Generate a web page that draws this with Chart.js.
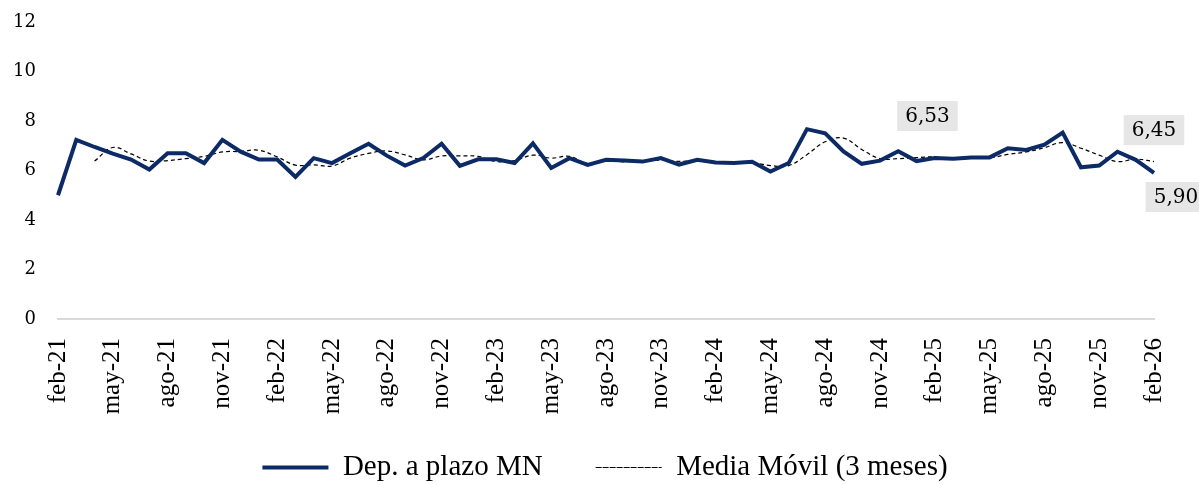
<!DOCTYPE html>
<html>
<head>
<meta charset="UTF-8">
<title>Dep. a plazo MN</title>
<script src="https://cdn.jsdelivr.net/npm/chart.js@4.4.1/dist/chart.umd.min.js"></script>
<style>
	body { margin:0; background:#fff; }
	#wrap { width:1199px; height:485px; }
</style>
</head>
<body>
	<div id="wrap"><canvas id="myChart"></canvas></div>

	<script>
		// meses feb-21 .. feb-26
		let meses = ['feb-21','mar-21','abr-21','may-21','jun-21','jul-21','ago-21','sep-21','oct-21','nov-21','dic-21',
			'ene-22','feb-22','mar-22','abr-22','may-22','jun-22','jul-22','ago-22','sep-22','oct-22','nov-22','dic-22',
			'ene-23','feb-23','mar-23','abr-23','may-23','jun-23','jul-23','ago-23','sep-23','oct-23','nov-23','dic-23',
			'ene-24','feb-24','mar-24','abr-24','may-24','jun-24','jul-24','ago-24','sep-24','oct-24','nov-24','dic-24',
			'ene-25','feb-25','mar-25','abr-25','may-25','jun-25','jul-25','ago-25','sep-25','oct-25','nov-25','dic-25',
			'ene-26','feb-26'];

		let depPlazo = [5.00, 7.24, 6.95, 6.68, 6.44, 6.04, 6.70, 6.70, 6.30, 7.24, 6.76,
			6.44, 6.44, 5.74, 6.50, 6.30, 6.70, 7.08, 6.60, 6.20, 6.50, 7.08, 6.19,
			6.45, 6.45, 6.30, 7.10, 6.10, 6.50, 6.23, 6.43, 6.40, 6.36, 6.50, 6.24,
			6.43, 6.32, 6.30, 6.35, 5.96, 6.30, 7.67, 7.50, 6.77, 6.27, 6.40, 6.78,
			6.38, 6.50, 6.47, 6.53, 6.53, 6.90, 6.83, 7.04, 7.53, 6.13, 6.20, 6.76,
			6.43, 5.90];

		let mediaMovil = [null, null, 6.38, 6.93, 6.67, 6.38, 6.40, 6.48, 6.57, 6.75, 6.77,
			6.82, 6.55, 6.22, 6.23, 6.18, 6.50, 6.69, 6.79, 6.63, 6.43, 6.59, 6.59,
			6.57, 6.36, 6.40, 6.62, 6.50, 6.57, 6.28, 6.39, 6.35, 6.40, 6.42, 6.37,
			6.39, 6.33, 6.35, 6.32, 6.20, 6.20, 6.64, 7.16, 7.31, 6.85, 6.48, 6.48,
			6.52, 6.55, 6.45, 6.50, 6.51, 6.65, 6.75, 6.92, 7.13, 6.90, 6.62, 6.36,
			6.46, 6.36];

		let yTicks = [0, 2, 4, 6, 8, 10, 12];
		let etiquetas = ['6,53', '6,45', '5,90'];
	</script>

	<script>
		// cajas grises con los valores, ancladas a las escalas
		const notas = {
			id: 'notas',
			afterLayout(chart) {
				// leyenda un poco a la derecha, como en el original
				chart.legend.left += 28;
				chart.legend.right += 28;
			},
			afterDatasetsDraw(chart, args, opts) {
				const ctx = chart.ctx;
				const xs = chart.scales.x, ys = chart.scales.y;
				ctx.save();
				ctx.font = '20px "DejaVu Serif"';
				ctx.textAlign = 'center';
				ctx.textBaseline = 'middle';
				opts.pos.forEach(function(p, i) {
					let cx = xs.getPixelForValue(p[0]);
					let cy = ys.getPixelForValue(p[1]);
					let w = ctx.measureText(etiquetas[i]).width + 16;
					let h = 30;
					ctx.fillStyle = '#e6e6e6';
					ctx.fillRect(cx - w/2, cy - h/2, w, h);
					ctx.fillStyle = '#000';
					ctx.fillText(etiquetas[i], cx, cy + 1);
				});
				ctx.restore();
			}
		};

		new Chart('myChart', {
		  type: 'line',
		  data: {
		    labels: meses,
		    datasets: [{
		      label: 'Dep. a plazo MN',
		      data: depPlazo,
		      borderColor: '#0c2a65',
		      backgroundColor: '#0c2a65',
		      borderWidth: 4,
		      pointRadius: 0,
		      tension: 0,
		      fill: false
		    }, {
		      label: 'Media Móvil (3 meses)',
		      data: mediaMovil,
		      borderColor: '#000',
		      backgroundColor: 'rgba(0,0,0,0)',
		      borderWidth: 1.2,
		      borderDash: [4, 3],
		      pointRadius: 0,
		      tension: 0.4,
		      fill: false
		    }]
		  },
		  plugins: [notas],
		  options: {
		    responsive: true,
		    maintainAspectRatio: false,
		    animation: false,
		    layout: { padding: { left: 0, right: 45, top: 22, bottom: -7 } },
		    scales: {
		      x: {
		        grid: { display: false, drawTicks: false },
		        border: { display: true, color: '#d9d9d9', width: 2 },
		        afterFit: function(s) {
		          s.paddingLeft = 0; s.paddingRight = 0; s.height = 81;
		          s._computeLabelArea = function() { return undefined; }; // sin recorte de etiquetas
		        },
		        ticks: {
		          autoSkip: false,
		          minRotation: 90,
		          maxRotation: 90,
		          padding: 19,
		          color: '#000',
		          font: { family: '"Liberation Serif"', size: 25 },
		          callback: function(v, i) { return i % 3 === 0 ? meses[i] : ''; }
		        }
		      },
		      y: {
		        min: 0,
		        max: 12,
		        grid: { display: false, drawTicks: false },
		        border: { display: false },
		        afterBuildTicks: function(s) { s.ticks = yTicks.map(function(v) { return { value: v }; }); },
		        afterFit: function(s) { s.width = 58; s.paddingTop = 0; s.paddingBottom = 0; },
		        ticks: {
		          padding: 22,
		          color: '#000',
		          font: { family: '"DejaVu Serif"', size: 18 }
		        }
		      }
		    },
		    plugins: {
		      legend: {
		        position: 'bottom',
		        labels: {
		          boxWidth: 66,
		          boxHeight: 0,
		          padding: 53,
		          color: '#000',
		          font: { family: '"Liberation Serif"', size: 29 }
		        }
		      },
		      tooltip: { enabled: false },
		      notas: { pos: [[47.6, 8.2], [60, 7.63], [61.2, 4.93]] }
		    }
		  }
		});
	</script>
</body>
</html>
